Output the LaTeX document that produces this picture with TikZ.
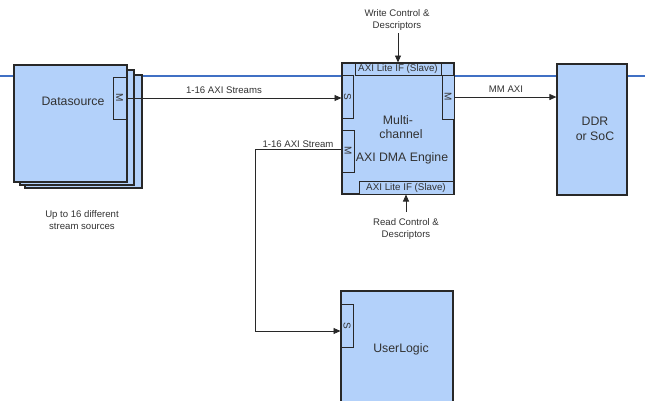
\documentclass[tikz,border=0pt]{standalone}
\usepackage{fontspec}
\setmainfont{Liberation Sans}
\usetikzlibrary{arrows.meta,fit}
\definecolor{blkfill}{RGB}{179,209,250}
\definecolor{blkline}{RGB}{40,40,40}
\definecolor{busblue}{RGB}{64,112,196}
\definecolor{txt}{RGB}{50,50,50}
\tikzset{
  blk/.style={draw=blkline, line width=1.2pt, fill=blkfill, inner sep=0pt},
  port/.style={draw=blkline, line width=1pt, fill=blkfill, inner sep=0pt},
  portlbl/.style={text=txt, font=\fontsize{10}{11}\selectfont, rotate=-90, inner sep=0pt},
  mainlbl/.style={text=txt, font=\fontsize{12.3}{14.5}\selectfont, align=center, inner sep=0pt},
  smalllbl/.style={text=txt, font=\fontsize{9.6}{12}\selectfont, align=center, inner sep=0pt},
  striplbl/.style={text=txt, font=\fontsize{9.8}{11}\selectfont, inner sep=0pt},
  conn/.style={draw=blkline, line width=0.9pt},
  arr/.style={conn, -{Triangle[length=7pt,width=6pt]}},
}
\begin{document}
\begin{tikzpicture}[x=1pt,y=-1pt]
\clip (0,0) rectangle (645,400);
\useasboundingbox (0,0) rectangle (645,400);

% system bus line running behind the blocks
\draw[busblue, line width=1.4pt] (0,76) -- (645,76);

% stacked data sources
\node[blk, fit={(25,75) (142,188)}] (ds3) {};
\node[blk, fit={(20,70) (134,185)}] (ds2) {};
\node[blk, fit={(14,65) (127,182)}] (ds) {};
\node[port, fit={(113,77) (126,119)}] (dsM) {};
\node[portlbl] (dsMl) at (dsM.center) {M};
\node[mainlbl] (dsl) at (73,101) {Datasource};
\node[smalllbl] (dsnote) at (82,220) {Up to 16 different\\stream sources};

% DMA engine
\node[blk, fit={(342,63) (454,194)}] (dma) {};
\node[port, fit={(355,63) (441,75)}] (dmaTop) {};
\node[striplbl] (dmaTopl) at (dmaTop.center) {AXI Lite IF (Slave)};
\node[port, fit={(359,181) (453,194)}] (dmaBot) {};
\node[striplbl] (dmaBotl) at (dmaBot.center) {AXI Lite IF (Slave)};
\node[port, fit={(342,75) (353,118)}] (dmaS) {};
\node[portlbl] (dmaSl) at (dmaS.center) {S};
\node[port, fit={(442,75) (454,119)}] (dmaM) {};
\node[portlbl] (dmaMl) at (dmaM.center) {M};
\node[port, fit={(342,130) (354,172)}] (dmaM2) {};
\node[portlbl] (dmaM2l) at (dmaM2.center) {M};
\node[mainlbl] (dmal1) at (398,120) {Multi-};
\node[mainlbl] (dmal2) at (401,134) {channel};
\node[mainlbl] (dmal3) at (402,158) {AXI DMA Engine};

% memory side
\node[blk, fit={(557,64) (627,195)}] (ddr) {};
\node[mainlbl] (ddrl) at (595,129) {DDR\\or SoC};

% user logic
\node[blk, fit={(341,291) (453,410)}] (ul) {};
\node[port, fit={(341,304) (353,347)}] (ulS) {};
\node[portlbl] (ulSl) at (ulS.center) {S};
\node[mainlbl] (ull) at (401,349) {UserLogic};

% control inputs
\node[smalllbl] (wcl) at (397,20) {Write Control \&\\Descriptors};
\coordinate (wc) at (dmaTop.north |- 0,33);
\draw[arr] (wc) -- (dmaTop.north);
\node[smalllbl] (rcl) at (406,229) {Read Control \&\\Descriptors};
\coordinate (rc) at (dmaBot.south |- 0,212);
\draw[arr] (rc) -- (dmaBot.south);

% stream connections
\draw[arr] (dsM.east) -- (dsM.east -| dmaS.west);
\node[smalllbl] (sl1) at (224,90) {1-16 AXI Streams};
\draw[arr] (dmaM.east) -- (dmaM.east -| ddr.west);
\node[smalllbl] (mml) at (506,89) {MM AXI};

\coordinate (t1) at (255,149);
\coordinate (t2) at (255,331);
\draw[arr] (t1 -| dmaM2.west) -- (t1) -- (t2) -- (t2 -| ulS.west);
\node[smalllbl] (sl2) at (298,144) {1-16 AXI Stream};
\end{tikzpicture}
\end{document}
